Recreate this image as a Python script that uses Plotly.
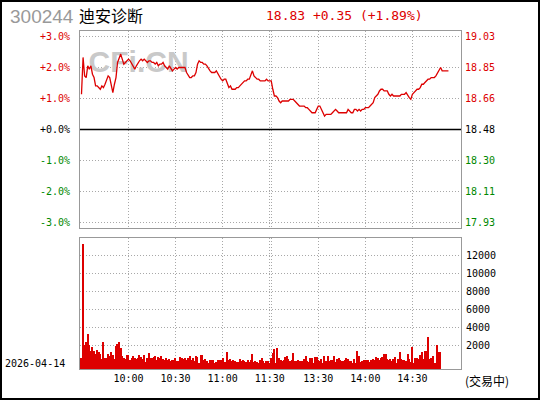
import plotly.graph_objects as go

# ---- data -------------------------------------------------------------
CODE = "300244"
NAME = "迪安诊断"
QUOTE = "18.83 +0.35 (+1.89%)"
TRADE_DATE = "2026-04-14"
STATUS = "(交易中)"
WATERMARK = "CFi.CN"

PREV_CLOSE = 18.48

TIME_TICKS = [30, 60, 90, 120, 121, 151, 181, 211]
TIME_LABELS = ["10:00", "10:30", "11:00", "11:30", "", "13:30", "14:00", "14:30"]

PCT_LEVELS = [3, 2, 1, 0, -1, -2, -3]
PCT_LABELS = ["+3.0%", "+2.0%", "+1.0%", "+0.0%", "-1.0%", "-2.0%", "-3.0%"]
PRICE_LABELS = ["19.03", "18.85", "18.66", "18.48", "18.30", "18.11", "17.93"]

VOL_TICKS = [2000, 4000, 6000, 8000, 10000, 12000]
VOL_LABELS = ["2000", "4000", "6000", "8000", "10000", "12000"]

# minute prices from 9:30 (index 0); 11:30 = 120, 13:00 = 121
PRICES = [
    18.69, 18.91, 18.80, 18.79, 18.86, 18.84, 18.86, 18.81, 18.79, 18.74,
    18.74, 18.73, 18.72, 18.74, 18.73, 18.75, 18.77, 18.80, 18.79, 18.74,
    18.70, 18.75, 18.79, 18.88, 18.91, 18.93, 18.90, 18.87, 18.88, 18.89,
    18.90, 18.89, 18.87, 18.85, 18.84, 18.86, 18.88, 18.89, 18.90, 18.89,
    18.90, 18.89, 18.88, 18.89, 18.89, 18.88, 18.88, 18.87, 18.88, 18.86,
    18.87, 18.87, 18.88, 18.86, 18.85, 18.84, 18.86, 18.84, 18.83, 18.84,
    18.85, 18.84, 18.85, 18.85, 18.85, 18.85, 18.85, 18.82, 18.80, 18.79,
    18.79, 18.80, 18.80, 18.82, 18.87, 18.89, 18.88, 18.88, 18.87, 18.87,
    18.86, 18.84, 18.83, 18.82, 18.82, 18.82, 18.83, 18.81, 18.79, 18.78,
    18.77, 18.78, 18.78, 18.75, 18.73, 18.74, 18.72, 18.72, 18.72, 18.73,
    18.73, 18.74, 18.75, 18.76, 18.77, 18.77, 18.78, 18.78, 18.81, 18.83,
    18.80, 18.79, 18.78, 18.78, 18.77, 18.77, 18.77, 18.77, 18.78, 18.77,
    18.77, 18.77, 18.72, 18.68, 18.68, 18.67, 18.65, 18.64, 18.65, 18.65,
    18.65, 18.65, 18.65, 18.66, 18.66, 18.66, 18.65, 18.64, 18.63, 18.62,
    18.62, 18.62, 18.62, 18.61, 18.61, 18.60, 18.59, 18.58, 18.58, 18.58,
    18.60, 18.62, 18.62, 18.60, 18.59, 18.56, 18.57, 18.57, 18.57, 18.57,
    18.58, 18.59, 18.60, 18.59, 18.58, 18.58, 18.58, 18.58, 18.58, 18.58,
    18.60, 18.59, 18.58, 18.58, 18.60, 18.60, 18.59, 18.60, 18.59, 18.60,
    18.60, 18.61, 18.61, 18.61, 18.62, 18.63, 18.64, 18.67, 18.68, 18.69,
    18.71, 18.72, 18.72, 18.71, 18.71, 18.71, 18.69, 18.68, 18.69, 18.68,
    18.68, 18.68, 18.68, 18.68, 18.69, 18.69, 18.69, 18.70, 18.68, 18.67,
    18.66, 18.69, 18.70, 18.71, 18.72, 18.72, 18.73, 18.75, 18.75, 18.76,
    18.77, 18.78, 18.78, 18.79, 18.79, 18.79, 18.80, 18.82, 18.84, 18.85,
    18.83, 18.83, 18.83, 18.83, 18.83,
]

VOLUMES = [
    555, 13250, 2033, 2290, 3255, 2033, 1366, 1811, 1366, 1033,
    1477, 1222, 1033, 477, 2366, 589, 589, 1033, 733, 1255,
    844, 444, 1922, 2144, 2366, 1700, 811, 589, 477, 922,
    922, 367, 589, 811, 589, 477, 589, 922, 700, 477,
    922, 144, 589, 1144, 589, 589, 700, 811, 367, 700,
    589, 811, 477, 367, 589, 367, 477, 255, 367, 367,
    589, 255, 255, 700, 589, 477, 589, 367, 589, 811,
    367, 589, 255, 811, 700, 33, 922, 922, 367, 477,
    255, 33, 367, 367, 367, 33, 144, 367, 367, 367,
    589, 144, 144, 1255, 367, 477, 255, 367, 255, 144,
    144, 477, 255, 367, 255, 144, 367, 144, 367, 1033,
    144, 255, 144, 33, 367, 589, 255, 0, 255, 255,
    0, 555, 1111, 1555, 0, 1666, 555, 370, 185, 333,
    666, 814, 444, 259, 370, 1111, 185, 259, 370, 185,
    259, 259, 481, 814, 185, 74, 555, 555, 0, 666,
    666, 370, 185, 444, 0, 814, 185, 814, 185, 333,
    370, 814, 74, 444, 555, 370, 259, 259, 370, 555,
    444, 259, 259, 0, 444, 0, 1291, 814, 74, 259,
    370, 333, 370, 370, 74, 370, 444, 333, 703, 555,
    333, 555, 703, 1037, 1037, 444, 333, 444, 259, 444,
    703, 30, 444, 1185, 444, 333, 370, 185, 962, 444,
    74, 1740, 0, 592, 592, 481, 925, 1185, 444, 1333,
    1333, 2850, 481, 592, 814, 0, 0, 1962, 1185, 1185,
]

# ---- geometry / style ---------------------------------------------------
W, H = 540, 400
PLOT_L, PLOT_R, PLOT_T, PLOT_B = 80, 461, 31, 369
PLOT_W = PLOT_R - PLOT_L
PLOT_H = PLOT_B - PLOT_T
PRICE_BOTTOM_PX = 228
VOL_TOP_PX = 238

X_RANGE = [-0.95, 242.0]
PCT_SPAN = 3.18
VOL_RANGE = [-667, 13890]
WATERMARK_AT = (36.4, 2.11)   # minute index, percent

RED = "#dd0000"
GREEN = "#008800"
GRID = "#a8a8a8"
BORDER = "#999999"
MONO = "DejaVu Sans Mono"
CJK = "Noto Sans CJK SC"


def px_x(px):
    return (px - PLOT_L) / PLOT_W


def px_y(py):
    return (PLOT_B - py) / PLOT_H


def level_price(p):
    return PREV_CLOSE * (1 + p / 100)


def level_color(p):
    return RED if p > 0 else (GREEN if p < 0 else "black")


minutes = list(range(len(PRICES)))
bar_minutes = list(range(len(VOLUMES)))

fig = go.Figure()
# watermark first so the price line is drawn over it
fig.add_scatter(
    x=[WATERMARK_AT[0]], y=[level_price(WATERMARK_AT[1])], mode="text",
    text=[f"<b>{WATERMARK}</b>"], textposition="middle center",
    textfont=dict(family="Liberation Sans", size=30, color="#c9c9c9"),
    xaxis="x", yaxis="y", showlegend=False, hoverinfo="skip",
)
fig.add_scatter(
    x=minutes, y=PRICES, mode="lines",
    line=dict(color=RED, width=1.3),
    xaxis="x", yaxis="y", showlegend=False, hoverinfo="skip",
)
fig.add_bar(
    x=bar_minutes, y=[v - VOL_RANGE[0] for v in VOLUMES], base=VOL_RANGE[0],
    width=0.8, marker=dict(color=RED, line=dict(width=0)),
    xaxis="x2", yaxis="y2", showlegend=False, hoverinfo="skip",
)

axis_common = dict(
    showline=True, mirror=True, linecolor=BORDER, linewidth=1,
    showgrid=True, gridcolor=GRID, gridwidth=1, griddash="1px,2px",
    zeroline=False, ticks="", fixedrange=True,
)

price_levels = [level_price(p) for p in PCT_LEVELS]

fig.update_layout(
    width=W, height=H,
    margin=dict(l=PLOT_L, r=W - PLOT_R, t=PLOT_T, b=H - PLOT_B),
    paper_bgcolor="white", plot_bgcolor="white",
    bargap=0,
    xaxis=dict(axis_common, range=X_RANGE, domain=[0, 1], anchor="y",
               tickvals=TIME_TICKS, showticklabels=False),
    yaxis=dict(axis_common, domain=[px_y(PRICE_BOTTOM_PX), 1], anchor="x",
               range=[level_price(-PCT_SPAN), level_price(PCT_SPAN)],
               tickvals=price_levels, showticklabels=False),
    xaxis2=dict(axis_common, range=X_RANGE, domain=[0, 1], anchor="y2",
                tickvals=TIME_TICKS, ticktext=TIME_LABELS,
                tickfont=dict(family=MONO, size=10, color="black")),
    yaxis2=dict(axis_common, domain=[0, px_y(VOL_TOP_PX)], anchor="x2",
                range=VOL_RANGE, tickvals=VOL_TICKS, showticklabels=False),
)

annotations = []
for p, pct_text, price_text in zip(PCT_LEVELS, PCT_LABELS, PRICE_LABELS):
    col = level_color(p)
    annotations.append(dict(
        text=pct_text, x=px_x(72), xref="paper", y=level_price(p), yref="y",
        xanchor="right", yanchor="middle", showarrow=False,
        font=dict(family=MONO, size=10, color=col),
    ))
    annotations.append(dict(
        text=price_text, x=px_x(462.5), xref="paper", y=level_price(p), yref="y",
        xanchor="left", yanchor="middle", showarrow=False,
        font=dict(family=MONO, size=10, color=col),
    ))
for v, t in zip(VOL_TICKS, VOL_LABELS):
    annotations.append(dict(
        text=t, x=px_x(464.5), xref="paper", y=v, yref="y2",
        xanchor="left", yanchor="middle", showarrow=False,
        font=dict(family=MONO, size=10, color="black"),
    ))

annotations += [
    dict(text=CODE, x=px_x(8), y=px_y(16), xref="paper", yref="paper",
         xanchor="left", yanchor="middle", showarrow=False,
         font=dict(family="Liberation Sans", size=19, color="#999999")),
    dict(text=NAME, x=px_x(77), y=px_y(15), xref="paper", yref="paper",
         xanchor="left", yanchor="middle", showarrow=False,
         font=dict(family=CJK, size=16, color="black")),
    dict(text=QUOTE, x=px_x(264), y=px_y(15.5), xref="paper", yref="paper",
         xanchor="left", yanchor="middle", showarrow=False,
         font=dict(family=MONO, size=13, color=RED)),
    dict(text=TRADE_DATE, x=px_x(67), y=px_y(363), xref="paper", yref="paper",
         xanchor="right", yanchor="middle", showarrow=False,
         font=dict(family=MONO, size=10, color="black")),
    dict(text=STATUS, x=px_x(463), y=px_y(380), xref="paper", yref="paper",
         xanchor="left", yanchor="middle", showarrow=False,
         font=dict(family=CJK, size=12, color="black")),
]
fig.update_layout(annotations=annotations)

shapes = [
    # prev close line
    dict(type="line", xref="paper", x0=0, x1=1, yref="y",
         y0=PREV_CLOSE, y1=PREV_CLOSE, line=dict(color="black", width=1.5)),
    # outer frame
    dict(type="rect", xref="paper", yref="paper",
         x0=px_x(1), x1=px_x(539), y0=px_y(399), y1=px_y(1),
         line=dict(color="black", width=2), fillcolor="rgba(0,0,0,0)"),
]
fig.update_layout(shapes=shapes)

# the page body has a default 8px margin; drop it so the figure fills the window
fig.write_html(
    "out.html",
    config={"displayModeBar": False},
    post_script="document.body.style.margin='0';document.body.style.overflow='hidden';",
)
